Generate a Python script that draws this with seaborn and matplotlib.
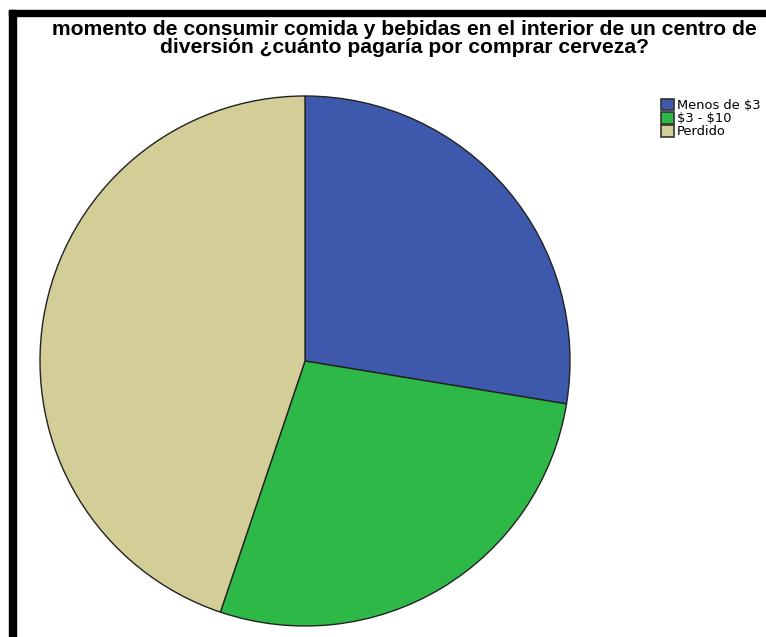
import matplotlib
matplotlib.use("Agg")
import matplotlib.pyplot as plt
import seaborn as sns
from matplotlib.patches import Rectangle

sns.set_theme(style="white")
plt.rcParams['font.family'] = ['Liberation Sans', 'DejaVu Sans']
plt.rcParams['text.color'] = 'black'

# data
categories = ['Menos de \\$3', '\\$3 - \\$10', 'Perdido']
counts = [8, 8, 13]
colors = ['#3E58AC', '#2EB848', '#D3CE97']
title = ('momento de consumir comida y bebidas en el interior de un centro de\n'
         'diversión ¿cuánto pagaría por comprar cerveza?')

W, H = 766, 637
fig = plt.figure(figsize=(W / 100, H / 100), dpi=100)

# black frame on top and left edges
fig.patches.append(Rectangle((9 / W, 0), 7 / W, 1 - 10 / H, transform=fig.transFigure,
                             color='black', zorder=0))
fig.patches.append(Rectangle((9 / W, 1 - 16 / H), 1, 6 / H, transform=fig.transFigure,
                             color='black', zorder=0))

ax = fig.add_axes([40 / W, 11 / H, 530 / W, 530 / H])
wedges, _ = ax.pie(counts, colors=colors, startangle=90, counterclock=False,
                   wedgeprops=dict(edgecolor='#222222', linewidth=1.0))
ax.set_xlim(-1, 1)
ax.set_ylim(-1, 1)
ax.set_aspect('equal')
ax.axis('off')

fig.text(0.528, 1 - 20 / H, title, ha='center', va='top', fontsize=15.2,
         fontweight='bold', linespacing=0.92)

leg = fig.legend(wedges, categories, loc='upper left', bbox_to_anchor=(652 / W, 1 - 90 / H),
                 frameon=False, prop={'family': 'DejaVu Sans', 'size': 9.4},
                 handlelength=0.95, handleheight=0.95,
                 handletextpad=0.25, labelspacing=0.0, borderpad=0.2)
for h in leg.legend_handles:
    h.set_edgecolor('#333333')
    h.set_linewidth(1.2)

fig.savefig('out.png', dpi=100)
